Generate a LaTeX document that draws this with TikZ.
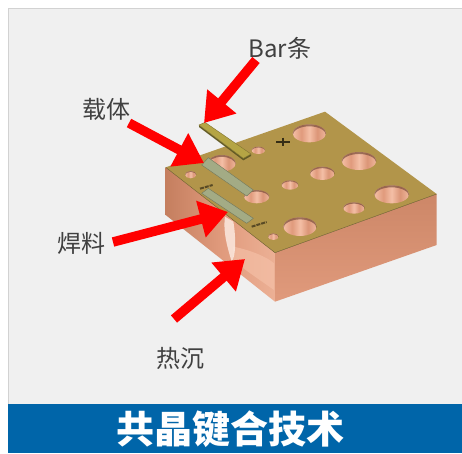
\documentclass[tikz,border=0pt]{standalone}
\usepackage{fontspec}
\setmainfont{Noto Sans CJK SC}
\usetikzlibrary{arrows.meta}
\definecolor{panel}{HTML}{F0F0F0}
\definecolor{banner}{HTML}{0065A9}
\definecolor{ink}{HTML}{404040}
\definecolor{topgold}{HTML}{B2954A}
\definecolor{barcol}{HTML}{B5A544}
\definecolor{layer}{HTML}{A3AB85}
\definecolor{cu}{HTML}{E09A7C}
\definecolor{culight}{HTML}{F4BFA6}
\definecolor{cudark}{HTML}{C07A5A}
\pgfdeclarehorizontalshading{holeshade}{100bp}{color(0bp)=(cu); color(25bp)=(culight); color(38bp)=(cu); color(50bp)=(culight); color(62bp)=(cu!85!cudark); color(78bp)=(culight); color(100bp)=(cu)}
\tikzset{
  lab/.style={text=ink,font=\fontsize{24}{26}\selectfont,inner sep=0pt},
  pointer/.style={draw=red,line width=9.5pt,-{Triangle[length=28pt,width=36pt]}},
  plate/.style={draw=#1!70!black,line width=.4pt,fill=#1},
}
\begin{document}
\begin{tikzpicture}[x=1pt,y=-1pt]
\useasboundingbox (0,0) rectangle (462,453);
\fill[white] (0,0) rectangle (462,453);
\fill[panel] (8,8) rectangle (462,404);
\draw[gray!35,line width=.6pt] (8,404) -- (8,8) -- (462,8);
\fill[banner] (8,404) rectangle (462,453);
\node[text=white,inner sep=0pt,font=\fontsize{38}{40}\bfseries\selectfont] (title) at (230,429.5) {共晶键合技术};

\begin{scope}[x=.33333pt,y=-.33333pt,shift={(150pt,-90pt)}]
  % block faces
  \shade[left color=cudark!85!cu,right color=culight!60!cu,middle color=cu] (47,232) -- (375,488) -- (375,635) -- (47,375) -- cycle;
  \shade[shading angle=20,top color=cudark!60!cu,middle color=cu!85!culight,bottom color=cu] (375,488) -- (860,312) -- (860,465) -- (375,635) -- cycle;
  % light patches on the left face
  \fill[culight,opacity=.7] (250,470) .. controls (300,480) and (350,500) .. (372,520) -- (372,600) .. controls (330,570) and (270,530) .. (250,510) -- cycle;
  \fill[white!65!culight,opacity=.85] (225,380) .. controls (218,430) and (235,480) .. (245,515) .. controls (258,500) and (258,440) .. (250,395) -- cycle;
  % top face
  \fill[topgold] (47,232) -- (525,65) -- (860,312) -- (375,488) -- cycle;
  \draw[topgold!60!black,line width=.4pt] (47,232) -- (375,488) -- (860,312);
  % holes
  \foreach \cx/\cy/\rx/\ry in {478/130/50/27,627/213/52/27,517/250/37/20,420/285/25/14,725/313/52/27,612/354/32/17,450/410/50/28,370/440/16/10,320/320/38/20,325/181/20/11,122/254/17/11,215/220/42/25}{
    \begin{scope}
      \clip (\cx,\cy) ellipse [x radius=\rx,y radius=\ry];
      \shade[shading=holeshade] (\cx-\rx,\cy-\ry) rectangle (\cx+\rx,\cy+\ry);
      \fill[cudark!60!black,opacity=.65,even odd rule] (\cx-\rx-2,\cy-\ry-2) rectangle (\cx+\rx+2,\cy+\ry+2) (\cx,\cy+\ry*.22) ellipse [x radius=\rx,y radius=\ry];
    \end{scope}
  }
  % bar, carrier, solder
  \fill[barcol!55!black] (147,105) -- (280,205) -- (303,192) -- (303,198) -- (280,211) -- (147,111) -- cycle;
  \draw[plate=barcol] (147,105) -- (165,97) -- (303,192) -- (280,205) -- cycle;
  \draw[plate=layer] (155,225) -- (175,203) -- (310,300) -- (290,318) -- cycle;
  \draw[plate=layer] (155,310) -- (175,295) -- (310,385) -- (290,400) -- cycle;
  % small engraved marks
  \draw[black!70!topgold,line width=2.2pt] (378,155) -- (420,155) (400,143) -- (400,169);
  \draw[black!50!topgold,line width=2pt,dash pattern=on 4pt off 1pt] (150,296) -- (188,285);
  \draw[black!50!topgold,line width=2pt,dash pattern=on 4pt off 1pt] (305,410) -- (350,396);
\end{scope}

\node[lab] (barlabel) at (280,48) {Bar条};
\node[lab] (carrierlabel) at (106,109) {载体};
\node[lab] (solderlabel) at (81,243) {焊料};
\node[lab] (sinklabel) at (180,358) {热沉};

\coordinate (barfrom) at (256,60);
\coordinate (barto) at (204,123);
\coordinate (carrierfrom) at (129,123);
\coordinate (carrierto) at (204,163);
\coordinate (solderfrom) at (113,242);
\coordinate (solderto) at (228,212);
\coordinate (sinkfrom) at (174,319);
\coordinate (sinkto) at (245,259);
\draw[pointer] (barfrom) -- (barto);
\draw[pointer] (carrierfrom) -- (carrierto);
\draw[pointer] (solderfrom) -- (solderto);
\draw[pointer] (sinkfrom) -- (sinkto);
\end{tikzpicture}
\end{document}
